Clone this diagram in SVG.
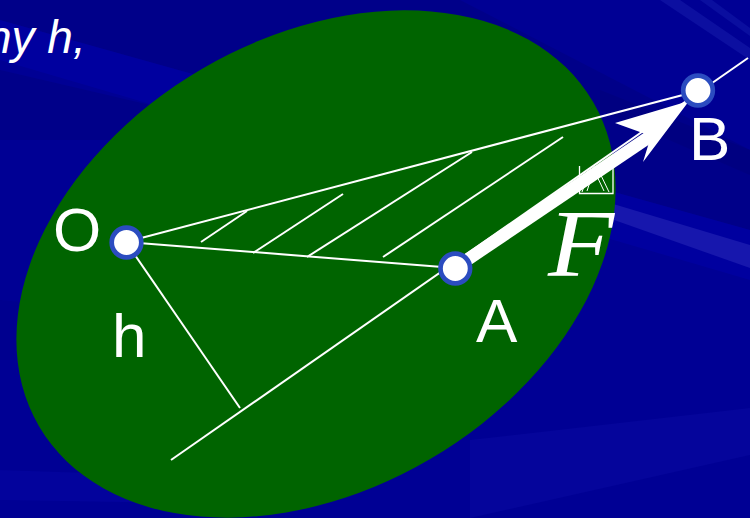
<svg xmlns="http://www.w3.org/2000/svg" width="750" height="518" viewBox="0 0 750 518">
  <style>
    .thin { stroke: #ffffff; stroke-width: 2; fill: none; stroke-linecap: butt; }
    .pt { fill: #ffffff; stroke: #2b4cc0; stroke-width: 4.7; }
    .lbl { font-family: "Liberation Sans", Arial, sans-serif; font-size: 62px; fill: #ffffff; }
  </style>
  <!-- background -->
  <rect x="0" y="0" width="750" height="518" fill="#000094"/>
  <polygon points="0,0 460,0 750,150 750,230 0,20" fill="#000080" opacity="0.55"/>
  <polygon points="0,20 750,230 750,280 0,60" fill="#0000a6" opacity="0.6"/>
  <polygon points="0,70 300,140 0,140" fill="#00007e" opacity="0.5"/>
  <polygon points="600,90 750,150 750,175 600,110" fill="#00007a" opacity="0.5"/>
  <polygon points="660,0 680,0 750,48 750,60" fill="#1a22b0" opacity="0.45"/>
  <polygon points="700,0 712,0 750,28 750,36" fill="#1a22b0" opacity="0.4"/>
  <polygon points="600,200 750,245 750,268 600,215" fill="#2a2ab8" opacity="0.55"/>
  <polygon points="470,440 750,408 750,455 470,518" fill="#0a0aa2" opacity="0.5"/>
  <polygon points="0,470 300,480 300,505 0,500" fill="#0606a4" opacity="0.5"/>
  <polygon points="0,300 200,320 200,360 0,360" fill="#00008a" opacity="0.5"/>

  <!-- body -->
  <ellipse id="body" cx="316" cy="264" rx="321" ry="226" transform="rotate(-30.35 316 264)" fill="#006400"/>

  <!-- top-left text -->
  <text x="-14" y="53" font-family="'Liberation Sans', Arial, sans-serif" font-style="italic" font-size="46" fill="#ffffff">ny h,</text>

  <!-- connectors -->
  <g id="connectors">
    <line class="thin" x1="171" y1="460" x2="748" y2="58"/>
    <line class="thin" x1="126" y1="242" x2="240" y2="408"/>
    <line class="thin" x1="126" y1="242" x2="698" y2="91"/>
    <line class="thin" x1="126" y1="242" x2="455" y2="268"/>
    <g id="hatch">
      <line class="thin" x1="201" y1="242" x2="247" y2="211"/>
      <line class="thin" x1="253" y1="253" x2="343" y2="194"/>
      <line class="thin" x1="307" y1="257" x2="472" y2="152"/>
      <line class="thin" x1="383" y1="257" x2="563" y2="137"/>
    </g>
    <g id="force-F">
      <line x1="455" y1="268" x2="652" y2="135" stroke="#ffffff" stroke-width="12.5"/>
      <polygon points="689,101 615,123 651,136 643,162" fill="#ffffff"/>
    </g>
  </g>

  <!-- nodes -->
  <g id="node-O">
    <circle class="pt" cx="126.5" cy="242.5" r="14.8"/>
    <text class="lbl" x="53" y="251">O</text>
  </g>
  <g id="node-A">
    <circle class="pt" cx="455.3" cy="268.5" r="14.8"/>
    <text class="lbl" x="476" y="342">A</text>
  </g>
  <g id="node-B">
    <circle class="pt" cx="698" cy="90.5" r="14.8"/>
    <text class="lbl" x="689" y="160">B</text>
  </g>
  <g id="label-h">
    <text class="lbl" x="112" y="357">h</text>
  </g>
  <g id="label-F">
    <path d="M579.5,166 V193.5 H613 V166" fill="none" stroke="#ffffff" stroke-width="1.3"/>
    <path d="M582,192 L591,167 L597,167 L609,192 M584,181 L589,168 M587,191 L594,170 L604,191" fill="none" stroke="#ffffff" stroke-width="1"/>
    <text transform="translate(548,276) scale(1.14,1)" x="0" y="0" font-family="'Liberation Serif', 'Times New Roman', serif" font-style="italic" font-size="95" fill="#ffffff">F</text>
  </g>
</svg>
